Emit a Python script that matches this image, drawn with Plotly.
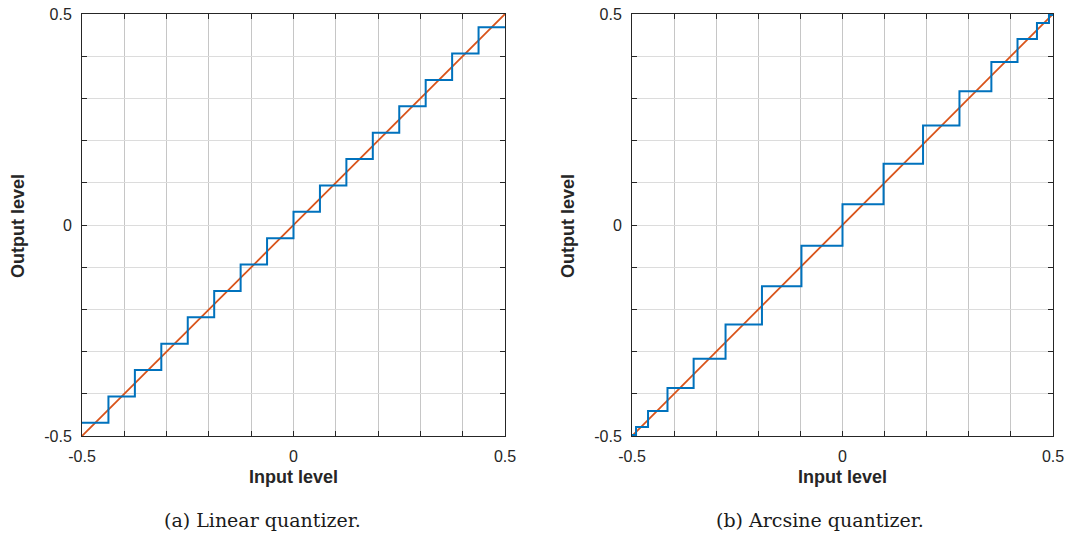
import plotly.graph_objects as go

# Linear quantizer: decision edges and output levels
lin_edges = [-0.5, -0.4375, -0.375, -0.3125, -0.25, -0.1875, -0.125, -0.0625, 0.0,
             0.0625, 0.125, 0.1875, 0.25, 0.3125, 0.375, 0.4375, 0.5]
lin_levels = [-0.46875, -0.40625, -0.34375, -0.28125, -0.21875, -0.15625, -0.09375, -0.03125,
              0.03125, 0.09375, 0.15625, 0.21875, 0.28125, 0.34375, 0.40625, 0.46875]

# Arcsine quantizer: decision edges and output levels
asin_edges = [-0.5, -0.4904, -0.4619, -0.4157, -0.3536, -0.2778, -0.1913, -0.0975, 0.0,
              0.0975, 0.1913, 0.2778, 0.3536, 0.4157, 0.4619, 0.4904, 0.5]
asin_levels = [-0.4976, -0.4785, -0.4410, -0.3865, -0.3172, -0.2357, -0.1451, -0.0490,
               0.0490, 0.1451, 0.2357, 0.3172, 0.3865, 0.4410, 0.4785, 0.4976]

ideal_x = [-0.5, 0.5]
ideal_y = [-0.5, 0.5]

tick_vals = [-0.5, -0.4, -0.3, -0.2, -0.1, 0.0, 0.1, 0.2, 0.3, 0.4, 0.5]
tick_text = ["-0.5", "", "", "", "", "0", "", "", "", "", "0.5"]

captions = ["(a) Linear quantizer.", "(b) Arcsine quantizer."]

BLUE = "#0072BD"
ORANGE = "#D95319"

fig = go.Figure()

panels = [(lin_edges, lin_levels, "x", "y"), (asin_edges, asin_levels, "x2", "y2")]
for edges, levels, xa, ya in panels:
    fig.add_trace(go.Scatter(x=ideal_x, y=ideal_y, mode="lines", xaxis=xa, yaxis=ya,
                             line=dict(color=ORANGE, width=1.8), showlegend=False))
    fig.add_trace(go.Scatter(x=edges, y=levels + [levels[-1]], mode="lines", xaxis=xa, yaxis=ya,
                             line=dict(color=BLUE, width=2, shape="hv"), showlegend=False))

W, H = 1071, 535


def px(x):
    return x / W


def py(y):
    return 1 - y / H


doms_x = [[px(82), px(505)], [px(632), px(1053)]]
dom_y = [py(436), py(14)]

axis_common = dict(
    range=[-0.5, 0.5], tickmode="array", tickvals=tick_vals, ticktext=tick_text,
    ticks="inside", ticklen=5, tickcolor="#262626", tickwidth=1,
    showline=True, linecolor="#262626", linewidth=1, mirror="ticks",
    showgrid=True, gridwidth=1, zeroline=False,
    tickfont=dict(family="Liberation Sans, Arial", size=16, color="#262626"),
    ticklabelstandoff=6, automargin=False,
    fixedrange=True,
)
xgrid = "#c6c6c6"
ygrid = "#dcdcdc"

fig.update_layout(
    width=W, height=H, margin=dict(l=0, r=0, t=0, b=0, autoexpand=False),
    paper_bgcolor="white", plot_bgcolor="white",
    xaxis=dict(domain=doms_x[0], anchor="y", gridcolor=xgrid, **axis_common),
    yaxis=dict(domain=dom_y, anchor="x", gridcolor=ygrid, **axis_common),
    xaxis2=dict(domain=doms_x[1], anchor="y2", gridcolor=xgrid, **axis_common),
    yaxis2=dict(domain=dom_y, anchor="x2", gridcolor=ygrid, **axis_common),
)

title_font = dict(family="Liberation Sans, Arial", size=18, color="#262626")
cap_x = [262, 820]
annotations = []
for i in range(2):
    cx = (doms_x[i][0] + doms_x[i][1]) / 2
    annotations.append(dict(text="<b>Input level</b>", x=cx, y=py(477), xref="paper", yref="paper",
                            xanchor="center", yanchor="middle", showarrow=False, font=title_font))
    left_px = 82 if i == 0 else 632
    annotations.append(dict(text="<b>Output level</b>", x=px(left_px - 64), y=py(226),
                            xref="paper", yref="paper", xanchor="center", yanchor="middle",
                            textangle=-90, showarrow=False, font=title_font))
    annotations.append(dict(text=captions[i], x=px(cap_x[i]), y=py(520), xref="paper", yref="paper",
                            xanchor="center", yanchor="middle", showarrow=False,
                            font=dict(family="DejaVu Serif, Liberation Serif", size=19, color="#1a1a1a")))
fig.update_layout(annotations=annotations)

fig.write_html("out.html")
